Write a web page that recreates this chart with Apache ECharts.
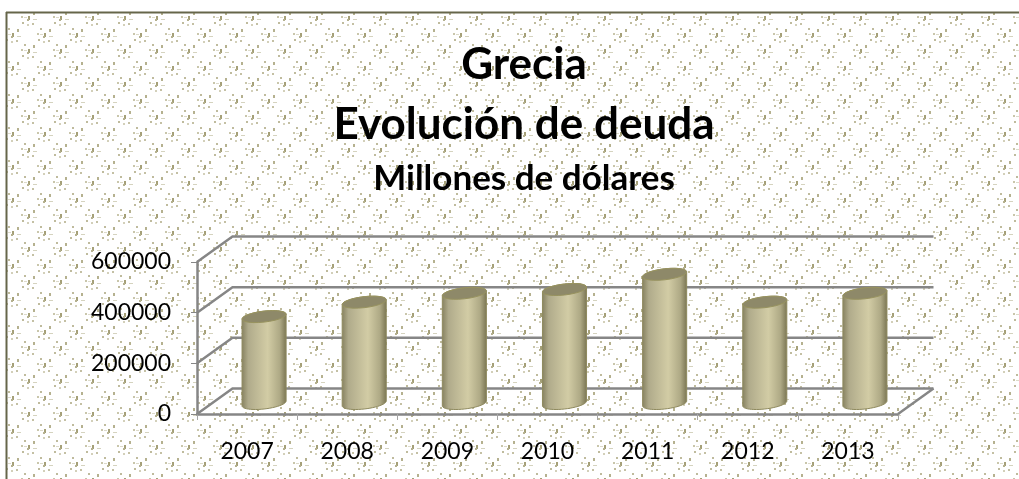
<!DOCTYPE html>
<html>
<head>
<meta charset="utf-8">
<script src="https://cdn.jsdelivr.net/npm/echarts@6/dist/echarts.min.js"></script>
<style>
html,body{margin:0;padding:0;background:#fff;}
#chart{width:1019px;height:479px;}
</style>
</head>
<body>
<div id="chart"></div>
<script>
// Greek debt, millions of dollars
const years = ['2007','2008','2009','2010','2011','2012','2013'];
const debt = [343000,400000,435000,450000,510000,400000,435000];
const yTicks = [0,200000,400000,600000];

// Depth of the pseudo-3D box, in pixels
const DEPTH_X = 35.5;
const DEPTH_Y = -25.5;
const GRID_COLOR = '#868686';

// Speckled paper fill: one motif per 16px cell, alternate rows shifted by half a tile
function speckleTile() {
  const w = 32, h = 33;
  const c = document.createElement('canvas');
  c.width = w; c.height = h;
  const g = c.getContext('2d');
  const motif = [
    [0,-2,2,4,'#a5a078'],[-1,1,2,2,'#b5b18f'],
    [-4,-7,2,2,'#bfbb9d'],[5,-6,2,3,'#b5b18f'],
    [-7,-2,2,2,'#c9c6ab'],[5,1,4,1,'#d5d3bf'],
    [-6,4,2,2,'#bfbb9d'],[4,5,2,2,'#c4c0a4'],
    [-1,6,2,2,'#d3d0ba'],[-4,-1,3,1,'#dddbca']
  ];
  const stamp = (ox, oy) => {
    for (const dx of [-w,0,w]) for (const dy of [-h,0,h]) {
      motif.forEach(m => {
        g.fillStyle = m[4];
        g.fillRect(ox+dx+m[0], oy+dy+m[1], m[2], m[3]);
      });
    }
  };
  stamp(12,2);
  stamp(28,18);
  return c;
}

// Wall and floor lines of the box, one entry per value tick
function renderWall(params, api) {
  const sys = params.coordSys;
  const y = api.coord([0, api.value(0)])[1];
  const style = {stroke: GRID_COLOR, lineWidth: 2.5, fill: 'none'};
  const children = [
    {type:'polyline', shape:{points:[[sys.x,y],[sys.x+DEPTH_X,y+DEPTH_Y],[sys.x+sys.width+DEPTH_X,y+DEPTH_Y]]}, style}
  ];
  if (api.value(0) === 0) {
    children.push({type:'line', shape:{x1:sys.x+sys.width,y1:y,x2:sys.x+sys.width+DEPTH_X,y2:y+DEPTH_Y}, style});
  }
  return {type:'group', children};
}

// Point list for a sheared ellipse arc
function arc(cx, cy, rx, ry, from, to) {
  const pts = [];
  const n = 24;
  for (let i = 0; i <= n; i++) {
    const t = from + (to-from)*i/n;
    const x = rx*Math.cos(t);
    pts.push([cx+x, cy+ry*Math.sin(t)-0.11*x]);
  }
  return pts;
}

// Cylinder standing mid-way through the box depth
function renderCylinder(params, api) {
  const i = api.value(0);
  const band = api.size([1,0])[0];
  const rx = band*0.22, ry = 5.5;
  const top = api.coord([i, api.value(1)]);
  const base = api.coord([i, 0]);
  const cx = top[0]+17;
  const topY = top[1]-10.5, baseY = base[1]-10.5;
  const side = arc(cx,baseY,rx,ry,0,Math.PI).concat(arc(cx,topY,rx,ry,Math.PI,2*Math.PI));
  return {type:'group', children:[
    {type:'polygon', shape:{points:side}, style:{
      stroke:'#8f8a5e', lineWidth:1,
      fill:{type:'linear',x:0,y:0,x2:1,y2:0,colorStops:[
        {offset:0,color:'#85805f'},{offset:0.15,color:'#b0ab8b'},
        {offset:0.58,color:'#d2cca5'},{offset:0.85,color:'#aea985'},
        {offset:1,color:'#787351'}]}
    }},
    {type:'polygon', shape:{points:arc(cx,topY,rx,ry,0,2*Math.PI)}, style:{stroke:'#98935f',lineWidth:1,fill:'#8e8969'}}
  ]};
}

const titleFont = {fontFamily:'Lato', fontWeight:'bold', color:'#000'};
const chart = echarts.init(document.getElementById('chart'), null, {renderer:'canvas'});
chart.setOption({
  animation:false,
  tooltip:{show:false},
  title:[
    {text:'Grecia', left:519, top:38, textAlign:'center', textStyle:{...titleFont,fontSize:44}},
    {text:'Evolución de deuda', left:519, top:98, textAlign:'center', textStyle:{...titleFont,fontSize:44}},
    {text:'Millones de dólares', left:519, top:156, textAlign:'center', textStyle:{...titleFont,fontSize:35}}
  ],
  graphic:[
    {type:'rect', z:-10, shape:{x:6,y:12,width:1013,height:467}, style:{fill:{image:speckleTile(),repeat:'repeat'}}},
    {type:'line', z:-9, shape:{x1:6,y1:12.5,x2:1019,y2:12.5}, style:{stroke:'#66664a',lineWidth:2}},
    {type:'line', z:-9, shape:{x1:6.5,y1:12,x2:6.5,y2:479}, style:{stroke:'#66664a',lineWidth:2}}
  ],
  grid:{left:197, top:262, width:701, height:152},
  xAxis:{
    type:'category', data:years,
    axisLine:{lineStyle:{color:GRID_COLOR,width:2.5}},
    axisTick:{show:true,length:6,lineStyle:{color:'#a5a5a5',width:1}},
    axisLabel:{color:'#000',fontFamily:'Lato',fontSize:23,margin:26}
  },
  yAxis:{
    type:'value', min:0, max:600000, interval:200000,
    axisLine:{show:true,lineStyle:{color:GRID_COLOR,width:2.5}},
    axisTick:{show:true,length:6,lineStyle:{color:GRID_COLOR,width:1}},
    splitLine:{show:false},
    axisLabel:{color:'#000',fontFamily:'Lato',fontSize:23,margin:26,formatter:v=>String(v)}
  },
  series:[
    {type:'custom', coordinateSystem:'cartesian2d', silent:true, z:1, clip:false,
     renderItem:renderWall, encode:{y:0}, data:yTicks.map(v=>[v])},
    {type:'custom', coordinateSystem:'cartesian2d', silent:true, z:2, clip:false,
     renderItem:renderCylinder, encode:{x:0,y:1}, data:debt.map((v,i)=>[i,v])}
  ]
});
</script>
</body>
</html>
